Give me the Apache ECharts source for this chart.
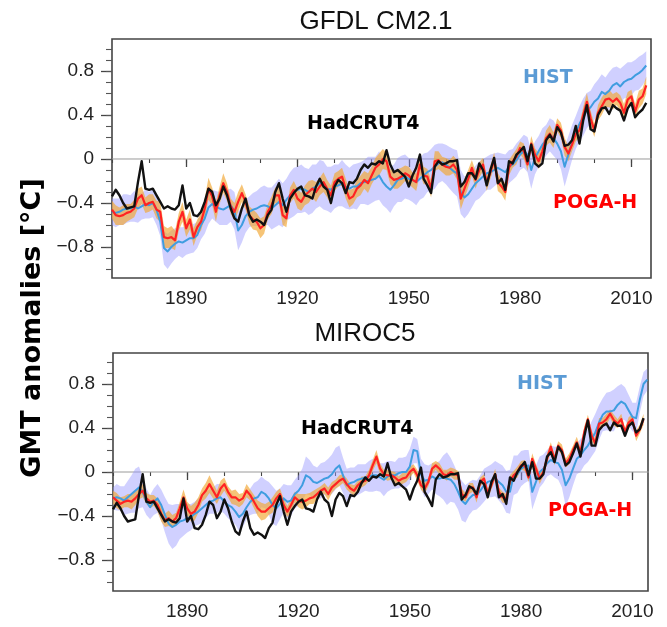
<!DOCTYPE html>
<html><head><meta charset="utf-8">
<script src="https://cdn.jsdelivr.net/npm/echarts@6/dist/echarts.min.js"></script>
<style>html,body{margin:0;padding:0;background:#fff}#c{width:667px;height:627px}</style>
</head><body><div id="c"></div>
<script>
// ---------- data ----------
const startYear = 1870;
const xMajorTicks = [1890, 1920, 1950, 1980, 2010];
const xMinorTicks = [1870, 1880, 1890, 1900, 1910, 1920, 1930, 1940, 1950, 1960, 1970, 1980, 1990, 2000, 2010];
const yMajorTicks = [-0.8, -0.4, 0, 0.4, 0.8];
const yMinorTicks = [-1.0, -0.9, -0.8, -0.7, -0.6, -0.5, -0.4, -0.3, -0.2, -0.1, 0, 0.1, 0.2, 0.3, 0.4, 0.5, 0.6, 0.7, 0.8, 0.9, 1.0];
const panelTitles = ['GFDL CM2.1', 'MIROC5'];

// GFDL CM2.1 panel (1870-2014)
const gfdlHadcrut4 = [
 -0.34,-0.28,-0.33,-0.40,-0.45,-0.44,-0.43,-0.21,-0.02,-0.27,
 -0.28,-0.27,-0.33,-0.39,-0.45,-0.43,-0.45,-0.46,-0.42,-0.24,
 -0.45,-0.40,-0.51,-0.52,-0.48,-0.39,-0.27,-0.30,-0.42,-0.36,
 -0.25,-0.33,-0.45,-0.54,-0.57,-0.45,-0.36,-0.51,-0.57,-0.55,
 -0.57,-0.60,-0.51,-0.46,-0.30,-0.22,-0.36,-0.48,-0.36,-0.31,
 -0.27,-0.25,-0.33,-0.34,-0.36,-0.25,-0.18,-0.25,-0.28,-0.40,
 -0.25,-0.19,-0.22,-0.31,-0.21,-0.22,-0.18,-0.10,-0.05,-0.08,
 -0.04,-0.05,-0.02,-0.04,0.08,-0.05,-0.12,-0.10,-0.13,-0.16,
 -0.25,-0.15,-0.08,0.04,-0.18,-0.24,-0.31,-0.07,-0.02,-0.05,
 -0.04,-0.02,-0.02,-0.01,-0.25,-0.21,-0.13,-0.13,-0.18,-0.04,
 -0.10,-0.24,-0.10,0.01,-0.22,-0.18,-0.28,-0.02,-0.04,0.04,
 0.07,0.11,-0.02,0.13,-0.04,-0.07,-0.04,0.17,0.22,0.16,
 0.29,0.24,0.12,0.13,0.17,0.30,0.14,0.35,0.49,0.27,
 0.25,0.40,0.46,0.47,0.41,0.49,0.46,0.44,0.35,0.46,
 0.51,0.38,0.42,0.45,0.51
];
const gfdlHist = [
 -0.48,-0.49,-0.48,-0.46,-0.45,-0.45,-0.43,-0.45,-0.43,-0.41,
 -0.42,-0.40,-0.46,-0.57,-0.81,-0.84,-0.80,-0.77,-0.75,-0.76,
 -0.74,-0.72,-0.72,-0.69,-0.60,-0.54,-0.44,-0.41,-0.43,-0.45,
 -0.46,-0.44,-0.42,-0.47,-0.65,-0.60,-0.52,-0.48,-0.46,-0.45,
 -0.43,-0.42,-0.43,-0.45,-0.42,-0.39,-0.42,-0.37,-0.33,-0.30,
 -0.28,-0.27,-0.28,-0.30,-0.27,-0.25,-0.22,-0.24,-0.27,-0.28,
 -0.25,-0.24,-0.22,-0.25,-0.27,-0.25,-0.25,-0.22,-0.21,-0.20,
 -0.19,-0.18,-0.15,-0.21,-0.25,-0.28,-0.24,-0.19,-0.18,-0.16,
 -0.18,-0.19,-0.21,-0.18,-0.15,-0.12,-0.10,-0.07,-0.04,-0.03,
 -0.05,-0.08,-0.11,-0.13,-0.30,-0.35,-0.32,-0.27,-0.22,-0.19,
 -0.16,-0.13,-0.12,-0.10,-0.08,-0.10,-0.12,-0.07,-0.05,-0.01,
 0.04,0.07,0.04,-0.10,0.01,0.07,0.13,0.17,0.22,0.19,
 0.14,0.07,-0.07,0.04,0.15,0.24,0.32,0.38,0.44,0.47,
 0.52,0.55,0.61,0.59,0.62,0.67,0.69,0.66,0.70,0.72,
 0.73,0.76,0.78,0.81,0.85
];
const gfdlHistSpread = [
 0.12,0.13,0.12,0.14,0.13,0.12,0.14,0.13,0.12,0.13,
 0.12,0.13,0.14,0.13,0.15,0.16,0.15,0.14,0.13,0.14,
 0.13,0.14,0.13,0.12,0.13,0.14,0.15,0.13,0.14,0.15,
 0.14,0.16,0.15,0.17,0.18,0.16,0.15,0.14,0.15,0.16,
 0.17,0.18,0.17,0.19,0.20,0.21,0.20,0.19,0.21,0.22,
 0.21,0.22,0.20,0.21,0.22,0.20,0.21,0.22,0.20,0.21,
 0.20,0.19,0.21,0.20,0.19,0.20,0.21,0.19,0.20,0.22,
 0.21,0.20,0.22,0.21,0.20,0.21,0.19,0.20,0.21,0.20,
 0.19,0.20,0.21,0.19,0.20,0.18,0.19,0.20,0.18,0.17,
 0.18,0.19,0.20,0.21,0.20,0.19,0.18,0.17,0.16,0.17,
 0.16,0.15,0.16,0.15,0.14,0.15,0.16,0.15,0.14,0.15,
 0.14,0.15,0.16,0.17,0.15,0.14,0.15,0.14,0.15,0.16,
 0.15,0.16,0.18,0.17,0.16,0.15,0.16,0.17,0.16,0.15,
 0.16,0.17,0.16,0.15,0.17,0.16,0.15,0.16,0.15,0.16,
 0.15,0.14,0.15,0.14,0.13
];
const gfdlPoga = [
 -0.46,-0.51,-0.52,-0.51,-0.49,-0.48,-0.45,-0.36,-0.33,-0.42,
 -0.40,-0.39,-0.46,-0.48,-0.71,-0.72,-0.71,-0.74,-0.57,-0.48,
 -0.63,-0.55,-0.71,-0.62,-0.57,-0.45,-0.27,-0.34,-0.48,-0.33,
 -0.22,-0.30,-0.43,-0.48,-0.39,-0.31,-0.39,-0.51,-0.55,-0.57,
 -0.63,-0.60,-0.48,-0.42,-0.33,-0.33,-0.51,-0.54,-0.33,-0.28,
 -0.36,-0.39,-0.33,-0.30,-0.27,-0.30,-0.25,-0.21,-0.27,-0.33,
 -0.21,-0.18,-0.16,-0.27,-0.36,-0.34,-0.27,-0.24,-0.19,-0.22,
 -0.15,-0.08,-0.05,0.00,-0.02,-0.16,-0.19,-0.18,-0.16,-0.13,
 -0.15,-0.19,-0.21,-0.05,-0.15,-0.16,-0.27,-0.02,-0.01,-0.05,
 -0.07,-0.08,-0.05,-0.10,-0.36,-0.27,-0.18,-0.08,-0.19,-0.10,
 -0.05,-0.22,-0.12,-0.01,-0.21,-0.25,-0.30,-0.08,-0.02,0.02,
 0.10,0.07,-0.05,0.14,0.04,-0.02,0.07,0.19,0.23,0.17,
 0.31,0.26,0.11,0.05,0.13,0.23,0.26,0.40,0.52,0.37,
 0.26,0.42,0.48,0.54,0.55,0.52,0.55,0.51,0.42,0.54,
 0.57,0.43,0.54,0.57,0.67
];
const gfdlPogaSpread = [
 0.08,0.09,0.08,0.09,0.08,0.07,0.08,0.09,0.08,0.07,
 0.08,0.07,0.08,0.09,0.10,0.09,0.10,0.09,0.08,0.09,
 0.08,0.09,0.08,0.07,0.08,0.09,0.10,0.08,0.09,0.08,
 0.09,0.08,0.07,0.08,0.09,0.08,0.07,0.08,0.09,0.08,
 0.09,0.08,0.07,0.08,0.07,0.08,0.09,0.08,0.07,0.08,
 0.09,0.08,0.09,0.10,0.08,0.09,0.08,0.09,0.08,0.09,
 0.08,0.07,0.08,0.09,0.08,0.07,0.08,0.09,0.08,0.09,
 0.08,0.09,0.10,0.09,0.08,0.07,0.08,0.09,0.08,0.07,
 0.08,0.07,0.08,0.09,0.08,0.07,0.08,0.09,0.08,0.07,
 0.08,0.07,0.08,0.09,0.10,0.09,0.08,0.07,0.08,0.07,
 0.06,0.07,0.06,0.07,0.08,0.07,0.08,0.07,0.06,0.07,
 0.06,0.07,0.06,0.07,0.06,0.07,0.06,0.07,0.08,0.07,
 0.06,0.07,0.08,0.07,0.06,0.07,0.06,0.07,0.08,0.07,
 0.06,0.07,0.08,0.07,0.08,0.07,0.06,0.07,0.08,0.07,
 0.06,0.07,0.08,0.07,0.08
];

// MIROC5 panel (HIST 1870-2014, others 1870-2013)
const mirocHadcrut4 = [
 -0.34,-0.28,-0.33,-0.40,-0.45,-0.44,-0.43,-0.21,-0.02,-0.27,
 -0.28,-0.27,-0.33,-0.39,-0.45,-0.43,-0.45,-0.46,-0.42,-0.24,
 -0.45,-0.40,-0.51,-0.52,-0.48,-0.39,-0.27,-0.30,-0.42,-0.36,
 -0.25,-0.33,-0.45,-0.54,-0.57,-0.45,-0.36,-0.51,-0.57,-0.55,
 -0.57,-0.60,-0.51,-0.46,-0.30,-0.22,-0.36,-0.48,-0.36,-0.31,
 -0.27,-0.25,-0.33,-0.34,-0.36,-0.25,-0.18,-0.25,-0.28,-0.40,
 -0.25,-0.19,-0.22,-0.31,-0.21,-0.22,-0.18,-0.10,-0.05,-0.08,
 -0.04,-0.05,-0.02,-0.04,0.08,-0.05,-0.12,-0.10,-0.13,-0.16,
 -0.25,-0.15,-0.08,0.04,-0.18,-0.24,-0.31,-0.07,-0.02,-0.05,
 -0.04,-0.02,-0.02,-0.01,-0.25,-0.21,-0.13,-0.15,-0.20,-0.08,
 -0.11,-0.23,-0.09,-0.02,-0.23,-0.20,-0.29,-0.05,-0.08,0.00,
 0.05,0.09,-0.03,0.09,-0.06,-0.06,-0.02,0.14,0.18,0.09,
 0.23,0.18,0.06,0.09,0.17,0.26,0.14,0.32,0.47,0.24,
 0.24,0.38,0.42,0.44,0.38,0.45,0.42,0.42,0.33,0.42,
 0.45,0.36,0.39,0.49
];
const mirocHist = [
 -0.24,-0.23,-0.24,-0.26,-0.23,-0.20,-0.17,-0.14,-0.18,-0.27,
 -0.32,-0.27,-0.24,-0.30,-0.39,-0.47,-0.50,-0.48,-0.45,-0.44,
 -0.42,-0.41,-0.38,-0.36,-0.33,-0.30,-0.27,-0.26,-0.24,-0.23,
 -0.27,-0.30,-0.32,-0.36,-0.41,-0.38,-0.32,-0.27,-0.24,-0.23,
 -0.18,-0.20,-0.24,-0.30,-0.33,-0.29,-0.24,-0.27,-0.26,-0.20,
 -0.17,-0.12,-0.03,-0.05,-0.09,-0.10,-0.08,-0.06,-0.05,-0.02,
 0.03,0.06,-0.03,-0.12,-0.10,-0.09,-0.07,-0.06,-0.05,-0.04,
 -0.03,-0.03,-0.05,-0.07,-0.04,-0.03,-0.03,-0.01,0.00,0.00,
 0.05,0.20,0.19,-0.02,-0.08,-0.07,-0.04,-0.06,-0.06,-0.05,
 -0.06,-0.07,-0.11,-0.18,-0.26,-0.29,-0.24,-0.21,-0.21,-0.17,
 -0.12,-0.09,-0.08,-0.06,-0.09,-0.12,-0.18,-0.18,-0.03,-0.02,
 0.03,0.05,0.06,-0.18,-0.09,0.00,0.03,0.08,0.11,0.09,
 0.08,0.02,-0.12,-0.06,0.03,0.12,0.15,0.20,0.24,0.30,
 0.36,0.45,0.52,0.55,0.55,0.56,0.61,0.64,0.62,0.56,
 0.50,0.49,0.66,0.80,0.84
];
const mirocHistSpread = [
 0.10,0.12,0.11,0.13,0.15,0.17,0.20,0.19,0.14,0.12,
 0.11,0.12,0.13,0.14,0.16,0.18,0.20,0.19,0.16,0.14,
 0.13,0.12,0.11,0.12,0.13,0.12,0.11,0.12,0.13,0.12,
 0.11,0.12,0.13,0.12,0.13,0.12,0.11,0.12,0.14,0.15,
 0.14,0.13,0.15,0.17,0.16,0.14,0.13,0.15,0.14,0.13,
 0.14,0.15,0.17,0.16,0.15,0.14,0.16,0.15,0.17,0.18,
 0.19,0.18,0.16,0.15,0.14,0.13,0.14,0.13,0.12,0.14,
 0.15,0.14,0.13,0.15,0.14,0.13,0.12,0.14,0.13,0.14,
 0.16,0.12,0.11,0.14,0.15,0.13,0.12,0.14,0.16,0.20,
 0.24,0.20,0.17,0.16,0.18,0.17,0.15,0.14,0.13,0.14,
 0.15,0.14,0.15,0.16,0.17,0.18,0.19,0.20,0.18,0.17,
 0.16,0.15,0.14,0.16,0.15,0.14,0.13,0.12,0.13,0.14,
 0.15,0.16,0.19,0.17,0.15,0.14,0.15,0.14,0.15,0.16,
 0.17,0.16,0.15,0.17,0.18,0.19,0.17,0.16,0.15,0.14,
 0.13,0.14,0.12,0.11,0.10
];
const mirocPoga = [
 -0.23,-0.26,-0.29,-0.27,-0.26,-0.27,-0.24,-0.20,-0.17,-0.24,
 -0.27,-0.26,-0.30,-0.38,-0.44,-0.42,-0.45,-0.42,-0.33,-0.23,
 -0.33,-0.38,-0.36,-0.30,-0.21,-0.17,-0.11,-0.17,-0.23,-0.15,
 -0.11,-0.18,-0.23,-0.23,-0.26,-0.24,-0.17,-0.21,-0.27,-0.33,
 -0.36,-0.36,-0.33,-0.30,-0.24,-0.20,-0.30,-0.36,-0.30,-0.23,
 -0.26,-0.27,-0.26,-0.24,-0.23,-0.20,-0.17,-0.15,-0.20,-0.14,
 -0.11,-0.08,-0.06,-0.11,-0.15,-0.17,-0.12,-0.09,-0.08,-0.03,
 0.06,0.14,0.03,-0.02,-0.03,-0.03,-0.05,-0.08,-0.06,-0.05,
 0.00,0.03,-0.03,-0.12,-0.15,-0.09,0.03,0.06,0.03,-0.02,
 -0.03,0.00,-0.02,-0.03,-0.20,-0.23,-0.15,-0.14,-0.23,-0.09,
 -0.06,-0.20,-0.12,-0.02,-0.18,-0.23,-0.24,-0.08,-0.03,0.00,
 0.06,0.06,-0.05,0.12,0.03,-0.06,0.00,0.12,0.23,0.11,
 0.24,0.20,0.08,0.12,0.20,0.27,0.18,0.36,0.48,0.33,
 0.26,0.44,0.45,0.48,0.53,0.47,0.44,0.48,0.36,0.45,
 0.48,0.33,0.39,0.48
];
const mirocPogaSpread = [
 0.06,0.07,0.06,0.05,0.06,0.07,0.06,0.05,0.06,0.05,
 0.06,0.05,0.06,0.07,0.06,0.07,0.06,0.05,0.06,0.07,
 0.06,0.07,0.08,0.07,0.06,0.07,0.08,0.07,0.06,0.07,
 0.06,0.05,0.06,0.07,0.06,0.05,0.06,0.05,0.06,0.07,
 0.08,0.07,0.06,0.07,0.06,0.05,0.06,0.05,0.06,0.05,
 0.06,0.07,0.06,0.05,0.06,0.05,0.04,0.05,0.06,0.05,
 0.04,0.05,0.04,0.05,0.04,0.05,0.04,0.05,0.04,0.05,
 0.05,0.06,0.05,0.04,0.05,0.04,0.05,0.04,0.05,0.04,
 0.05,0.04,0.05,0.04,0.05,0.04,0.05,0.04,0.05,0.04,
 0.05,0.04,0.05,0.04,0.05,0.04,0.05,0.04,0.05,0.04,
 0.04,0.05,0.04,0.05,0.04,0.05,0.04,0.05,0.04,0.05,
 0.04,0.05,0.04,0.05,0.04,0.05,0.04,0.05,0.04,0.05,
 0.04,0.05,0.04,0.05,0.04,0.05,0.04,0.05,0.04,0.05,
 0.04,0.05,0.04,0.05,0.04,0.05,0.04,0.05,0.04,0.05,
 0.04,0.05,0.04,0.05
];

// ---------- build ----------
const toPairs = arr => arr.map((v, i) => [startYear + i, v]);
const toBand = (arr, spread) => arr.map((v, i) => [startYear + i, +(v - spread[i]).toFixed(3), +(v + spread[i]).toFixed(3)]);

const C_HIST = '#3f9de0', C_POGA = '#ff2222', C_OBS = '#111111';
const C_HIST_BAND = 'rgba(150,150,255,0.45)', C_POGA_BAND = 'rgba(242,168,55,0.68)';
const tickFont = {fontSize: 19, color: '#222', fontFamily: '"Liberation Sans", Arial, sans-serif'};

const grids = [
  {left: 112, top: 39, width: 539, height: 239, xmax: 2015.28, ymin: -1.082, ymax: 1.091},
  {left: 113, top: 353, width: 535, height: 238, xmax: 2014.2, ymin: -1.082, ymax: 1.082}
];

const option = {
  animation: false,
  backgroundColor: '#fff',
  grid: grids.map(g => ({left: g.left, top: g.top, width: g.width, height: g.height, show: true,
    borderColor: '#444', borderWidth: 1.6, backgroundColor: 'transparent', containLabel: false})),
  xAxis: [], yAxis: [], series: [], graphic: []
};

grids.forEach((g, gi) => {
  option.xAxis.push({
    type: 'value', gridIndex: gi, min: 1870, max: g.xmax, position: 'bottom',
    axisLine: {show: false}, splitLine: {show: false},
    axisTick: {show: true, customValues: xMajorTicks, length: 8, lineStyle: {color: '#444', width: 1.3}},
    axisLabel: Object.assign({show: true, customValues: xMajorTicks, margin: 11, formatter: v => String(v)}, tickFont)
  });
  option.xAxis.push({
    type: 'value', gridIndex: gi, min: 1870, max: g.xmax, position: 'bottom',
    axisLine: {show: false}, splitLine: {show: false},
    axisTick: {show: true, customValues: xMinorTicks, length: 4, lineStyle: {color: '#444', width: 1.1}},
    axisLabel: {show: false}
  });
  option.yAxis.push({
    type: 'value', gridIndex: gi, min: g.ymin, max: g.ymax, position: 'left',
    axisLine: {show: false}, splitLine: {show: false},
    axisTick: {show: true, customValues: yMajorTicks, length: 11, lineStyle: {color: '#444', width: 1.3}},
    axisLabel: Object.assign({show: true, customValues: yMajorTicks, margin: 18,
      formatter: v => Math.abs(v) < 1e-9 ? '0' : (v < 0 ? '\u2212' + Math.abs(v).toFixed(1) : v.toFixed(1))}, tickFont)
  });
  option.yAxis.push({
    type: 'value', gridIndex: gi, min: g.ymin, max: g.ymax, position: 'left',
    axisLine: {show: false}, splitLine: {show: false},
    axisTick: {show: true, customValues: yMinorTicks, length: 6, lineStyle: {color: '#555', width: 1.1}},
    axisLabel: {show: false}
  });
});

function bandSeries(gi, data, color, z) {
  return {
    type: 'custom', xAxisIndex: gi * 2, yAxisIndex: gi * 2, silent: true, z: z,
    data: data, encode: {x: 0, y: [1, 2]},
    renderItem: (params, api) => {
      if (params.dataIndex !== 0) return null;
      const up = data.map(d => api.coord([d[0], d[2]]));
      const lo = data.map(d => api.coord([d[0], d[1]])).reverse();
      return {type: 'polygon', shape: {points: up.concat(lo)}, style: {fill: color}};
    }
  };
}
function lineSeries(gi, name, data, color, width, z) {
  return {type: 'line', name: name, xAxisIndex: gi * 2, yAxisIndex: gi * 2, data: data,
    showSymbol: false, symbol: 'none', z: z, lineStyle: {color: color, width: width, join: 'round'}};
}

const panels = [
  {obs: gfdlHadcrut4, hist: gfdlHist, histS: gfdlHistSpread, poga: gfdlPoga, pogaS: gfdlPogaSpread},
  {obs: mirocHadcrut4, hist: mirocHist, histS: mirocHistSpread, poga: mirocPoga, pogaS: mirocPogaSpread}
];
panels.forEach((p, gi) => {
  option.series.push({type: 'line', xAxisIndex: gi * 2, yAxisIndex: gi * 2, data: [[1870, 0], [2016, 0]],
    symbol: 'none', silent: true, z: 1, lineStyle: {color: '#9a9a9a', width: 1}});
  option.series.push(bandSeries(gi, toBand(p.hist, p.histS), C_HIST_BAND, 2));
  option.series.push(bandSeries(gi, toBand(p.poga, p.pogaS), C_POGA_BAND, 3));
  option.series.push(lineSeries(gi, 'HIST', toPairs(p.hist), C_HIST, 2, 4));
  option.series.push(lineSeries(gi, 'POGA-H', toPairs(p.poga), C_POGA, 2.2, 5));
  option.series.push(lineSeries(gi, 'HadCRUT4', toPairs(p.obs), C_OBS, 2.4, 6));
});

const annFont = 'bold 19px "DejaVu Sans", Verdana, sans-serif';
option.graphic = [
  {type: 'text', x: 376, y: 22, style: {text: panelTitles[0], font: '26px "Liberation Sans", Arial, sans-serif', fill: '#111', textAlign: 'center', textVerticalAlign: 'middle'}},
  {type: 'text', x: 365, y: 334, style: {text: panelTitles[1], font: '26px "Liberation Sans", Arial, sans-serif', fill: '#111', textAlign: 'center', textVerticalAlign: 'middle'}},
  {type: 'text', x: 33, y: 328, rotation: Math.PI / 2, style: {text: 'GMT anomalies [°C]', font: 'bold 27px "DejaVu Sans", Verdana, sans-serif', fill: '#000', textAlign: 'center', textVerticalAlign: 'middle'}},
  {type: 'text', x: 307, y: 124, style: {text: 'HadCRUT4', font: annFont, fill: '#000', textAlign: 'left', textVerticalAlign: 'middle'}},
  {type: 'text', x: 523, y: 78, style: {text: 'HIST', font: annFont, fill: '#5b9bd5', textAlign: 'left', textVerticalAlign: 'middle'}},
  {type: 'text', x: 553, y: 203, style: {text: 'POGA-H', font: annFont, fill: '#ff0000', textAlign: 'left', textVerticalAlign: 'middle'}},
  {type: 'text', x: 301, y: 429, style: {text: 'HadCRUT4', font: annFont, fill: '#000', textAlign: 'left', textVerticalAlign: 'middle'}},
  {type: 'text', x: 517, y: 384, style: {text: 'HIST', font: annFont, fill: '#5b9bd5', textAlign: 'left', textVerticalAlign: 'middle'}},
  {type: 'text', x: 548, y: 511, style: {text: 'POGA-H', font: annFont, fill: '#ff0000', textAlign: 'left', textVerticalAlign: 'middle'}}
];

const chart = echarts.init(document.getElementById('c'), null, {renderer: 'canvas'});
chart.setOption(option);
</script></body></html>
